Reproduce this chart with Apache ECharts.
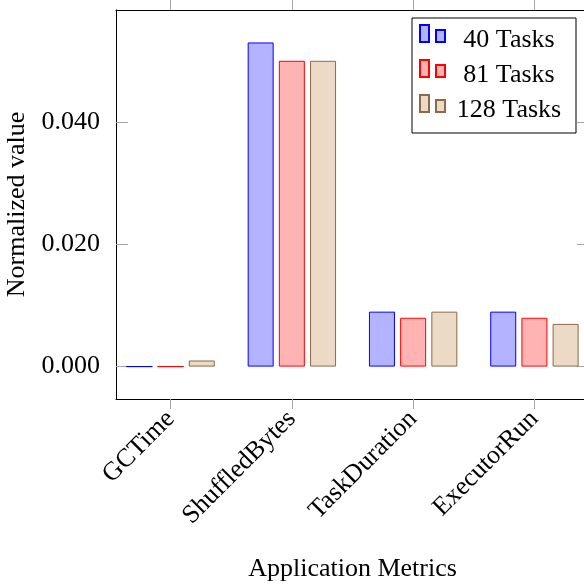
<!DOCTYPE html>
<html>
<head>
<meta charset="utf-8">
<script src="https://cdn.jsdelivr.net/npm/echarts@6/dist/echarts.min.js"></script>
<style>html,body{margin:0;padding:0;background:#fff;}#c{width:584px;height:584px;}</style>
</head>
<body>
<div id="c"></div>
<script>
var categories = ['GCTime', 'ShuffledBytes', 'TaskDuration', 'ExecutorRun'];
var seriesNames = ['40 Tasks', '81 Tasks', '128 Tasks'];
var tasks40 = [0, 0.0531, 0.009, 0.009];
var tasks81 = [0, 0.0501, 0.008, 0.008];
var tasks128 = [0.001, 0.0501, 0.009, 0.007];
var yTicks = [0, 0.02, 0.04];
var yTickLabels = ['0.000', '0.020', '0.040'];
var catPositions = [0, 1, 2, 3];

var FONT = 'Liberation Serif';
var fills = ['#b3b3ff', '#ffb3b3', '#ecd9c6'];
var strokes = ['#0000ff', '#ff0000', '#8c6a47'];
var allValues = [tasks40, tasks81, tasks128];

var chart = echarts.init(document.getElementById('c'));
var yMin = -0.00531, yMax = 0.05842;
var tickColor = '#a6a6a6';

function toPairs(arr) { return arr.map(function (v, i) { return [catPositions[i], v]; }); }

var series = allValues.map(function (vals, k) {
  return {
    name: seriesNames[k],
    type: 'bar',
    data: toPairs(vals),
    barWidth: 26,
    barGap: '20%',
    itemStyle: { color: fills[k], borderColor: strokes[k], borderWidth: 1 },
    emphasis: { disabled: true },
    animation: false
  };
});

chart.setOption({
  animation: false,
  grid: { left: 116, top: 10, right: -5, bottom: 185, containLabel: false, outerBoundsMode: 'none' },
  legend: {
    left: 412, top: 18,
    orient: 'vertical',
    data: seriesNames,
    icon: 'path://M0,0h9v17h-9zM16,5h9v12h-9zM0,31',
    itemWidth: 25, itemHeight: 31, itemGap: 2,
    padding: [6, 8, 6, 7],
    backgroundColor: '#fff',
    borderColor: '#000', borderWidth: 1,
    selectedMode: false,
    formatter: function (name) { return '{c|' + name + '}'; },
    textStyle: {
      fontFamily: FONT, fontSize: 26, color: '#000', lineHeight: 31,
      rich: { c: { fontFamily: FONT, fontSize: 26, color: '#000', lineHeight: 31, width: 118, align: 'center' } }
    }
  },
  xAxis: [{
    type: 'value', position: 'bottom', min: -0.45, max: 3.45,
    axisLine: { show: true, onZero: false, lineStyle: { color: '#000', width: 1 } },
    axisTick: { show: true, inside: false, length: 10, customValues: catPositions, lineStyle: { color: tickColor } },
    axisLabel: {
      customValues: catPositions, rotate: 45, margin: 16,
      fontFamily: FONT, fontSize: 26, color: '#000',
      formatter: function (v) { return categories[Math.round(v)]; }
    },
    splitLine: { show: false },
    name: 'Application Metrics', nameLocation: 'middle', nameGap: 157,
    nameTextStyle: { fontFamily: FONT, fontSize: 26, color: '#000' }
  }, {
    type: 'value', position: 'top', min: -0.45, max: 3.45,
    axisLine: { show: true, onZero: false, lineStyle: { color: '#000', width: 1 } },
    axisTick: { show: true, inside: false, length: 10, customValues: catPositions, lineStyle: { color: tickColor } },
    axisLabel: { show: false },
    splitLine: { show: false }
  }],
  yAxis: [{
    type: 'value', position: 'left', min: yMin, max: yMax,
    axisLine: { show: true, onZero: false, lineStyle: { color: '#000', width: 1 } },
    axisTick: { show: true, inside: true, length: 12, customValues: yTicks, lineStyle: { color: tickColor } },
    axisLabel: {
      customValues: yTicks, margin: 16,
      fontFamily: FONT, fontSize: 26, color: '#000',
      formatter: function (v) { var i = yTicks.indexOf(v); return i >= 0 ? yTickLabels[i] : v.toFixed(3); }
    },
    splitLine: { show: false },
    name: 'Normalized value', nameLocation: 'middle', nameGap: 82, nameRotate: 90,
    nameTextStyle: { fontFamily: FONT, fontSize: 26, color: '#000' }
  }, {
    type: 'value', position: 'right', min: yMin, max: yMax,
    axisLine: { show: true, onZero: false, lineStyle: { color: '#000', width: 1 } },
    axisTick: { show: true, inside: true, length: 12, customValues: yTicks, lineStyle: { color: tickColor } },
    axisLabel: { show: false },
    splitLine: { show: false }
  }],
  series: series
});
</script>
</body>
</html>
